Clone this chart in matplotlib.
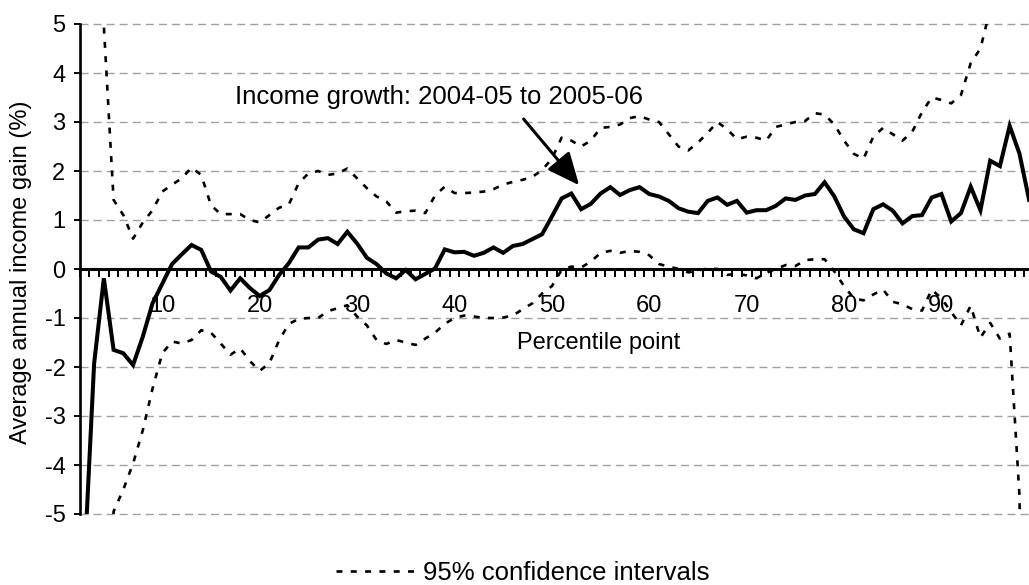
import matplotlib
matplotlib.use("Agg")
import matplotlib.pyplot as plt
import numpy as np

plt.rcParams['font.family'] = ['Liberation Sans', 'DejaVu Sans']
plt.rcParams['lines.scale_dashes'] = False

# Percentile points 2..99
percentiles = list(range(2, 100))

income_growth = [
    -6.0, -1.93, -0.19, -1.65, -1.72, -1.96, -1.38, -0.70, -0.30,    # 2-10
    0.10, 0.30, 0.49, 0.39, -0.05, -0.16, -0.44, -0.19, -0.39, -0.55,  # 11-20
    -0.43, -0.12, 0.12, 0.44, 0.44, 0.60, 0.63, 0.51, 0.76, 0.52,      # 21-30
    0.23, 0.10, -0.09, -0.19, -0.02, -0.21, -0.10, 0.01, 0.40, 0.34,   # 31-40
    0.35, 0.27, 0.33, 0.44, 0.33, 0.47, 0.51, 0.61, 0.71, 1.07,        # 41-50
    1.44, 1.54, 1.22, 1.33, 1.54, 1.67, 1.51, 1.61, 1.67, 1.53,        # 51-60
    1.48, 1.39, 1.24, 1.17, 1.14, 1.39, 1.46, 1.31, 1.39, 1.15,        # 61-70
    1.20, 1.20, 1.29, 1.44, 1.41, 1.50, 1.53, 1.77, 1.48, 1.07,        # 71-80
    0.81, 0.73, 1.22, 1.32, 1.19, 0.93, 1.08, 1.10, 1.46, 1.53,        # 81-90
    0.97, 1.14, 1.68, 1.20, 2.21, 2.10, 2.92, 2.36, 1.41,              # 91-99
]

upper_ci = [
    40.0, 18.0, 4.95, 1.41, 1.10, 0.62, 0.95, 1.20, 1.58,              # 2-10
    1.72, 1.85, 2.07, 1.92, 1.30, 1.12, 1.12, 1.12, 1.00, 0.95,        # 11-20
    1.10, 1.25, 1.32, 1.75, 1.95, 2.00, 1.92, 1.95, 2.05, 1.85,        # 21-30
    1.65, 1.48, 1.38, 1.15, 1.18, 1.19, 1.14, 1.50, 1.68, 1.55,        # 31-40
    1.55, 1.56, 1.58, 1.63, 1.72, 1.78, 1.82, 1.88, 2.02, 2.25,        # 41-50
    2.68, 2.62, 2.50, 2.62, 2.88, 2.90, 2.95, 3.08, 3.12, 3.05,        # 51-60
    3.00, 2.75, 2.50, 2.42, 2.58, 2.78, 3.00, 2.85, 2.65, 2.70,        # 61-70
    2.68, 2.62, 2.90, 2.95, 3.00, 3.02, 3.18, 3.15, 2.95, 2.62,        # 71-80
    2.35, 2.25, 2.70, 2.88, 2.75, 2.62, 2.80, 3.20, 3.50, 3.45,        # 81-90
    3.38, 3.55, 4.20, 4.50, 5.30, 7.00, 9.00, 8.00, 6.50,              # 91-99
]

lower_ci = [
    -20.0, -12.0, -9.0, -4.95, -4.50, -3.97, -3.29, -2.44, -1.72,      # 2-10
    -1.48, -1.52, -1.45, -1.25, -1.30, -1.52, -1.75, -1.62, -1.88, -2.08,  # 11-20
    -1.92, -1.45, -1.12, -1.02, -1.00, -1.00, -0.86, -0.80, -0.74, -0.97,  # 21-30
    -1.15, -1.45, -1.53, -1.45, -1.50, -1.55, -1.42, -1.30, -1.12, -1.00,  # 31-40
    -0.95, -0.97, -1.00, -1.00, -0.99, -0.95, -0.82, -0.70, -0.50, -0.35,  # 41-50
    -0.02, 0.05, 0.03, 0.15, 0.33, 0.37, 0.33, 0.37, 0.35, 0.28,       # 51-60
    0.10, 0.05, 0.00, -0.07, -0.03, 0.01, 0.00, -0.12, -0.10, -0.13,   # 61-70
    -0.19, -0.08, 0.00, 0.08, 0.06, 0.18, 0.20, 0.20, -0.05, -0.35,    # 71-80
    -0.60, -0.64, -0.52, -0.42, -0.67, -0.72, -0.82, -0.85, -0.42, -0.60,  # 81-90
    -0.88, -1.15, -0.75, -1.40, -1.10, -1.42, -1.32, -4.60, -15.0,     # 91-99
]

label_percentiles = [10, 20, 30, 40, 50, 60, 70, 80, 90]
y_ticks = [-5, -4, -3, -2, -1, 0, 1, 2, 3, 4, 5]

W, H = 1029, 585
fig = plt.figure(figsize=(W / 100, H / 100), dpi=100)
ax = fig.add_axes([79.5 / W, 1 - 514 / H, (1034 - 79.5) / W, 490 / H])

ci_dash = (0, (4.3, 6.0))
ax.plot(percentiles, upper_ci, color='black', lw=1.9, linestyle=ci_dash,
        label='95% confidence intervals', zorder=3)
ax.plot(percentiles, lower_ci, color='black', lw=1.9, linestyle=ci_dash, zorder=3)
ax.plot(percentiles, income_growth, color='black', lw=2.9, zorder=4,
        solid_joinstyle='miter')

ax.set_xlim(percentiles[0] - 0.5, percentiles[-1] + 0.5)
ax.set_ylim(-5, 5)

# grid
for v in y_ticks:
    if v != 0:
        ax.axhline(v, color='#a0a0a0', lw=1.0, linestyle=(0, (5.8, 3.6)),
                   zorder=1, clip_on=False)

for s in ['top', 'right']:
    ax.spines[s].set_visible(False)
ax.spines['bottom'].set_position(('data', 0))
ax.spines['bottom'].set_linewidth(2.2)
ax.spines['bottom'].set_zorder(5)
ax.spines['left'].set_linewidth(1.9)

# y ticks
ax.set_yticks(y_ticks)
ax.set_yticklabels([str(v) for v in y_ticks])
ax.tick_params(axis='y', direction='out', length=4.3, width=1.4, pad=5.8,
               labelsize=17)

# x ticks: category boundaries (major, no labels), labels at percentiles (minor)
boundaries = [percentiles[0] - 0.5] + [p + 0.5 for p in percentiles]
ax.set_xticks(boundaries)
ax.set_xticklabels([])
ax.tick_params(axis='x', which='major', direction='out', length=5.8, width=1.4)
ax.set_xticks(label_percentiles, minor=True)
ax.set_xticklabels([str(p) for p in label_percentiles], minor=True)
ax.tick_params(axis='x', which='minor', length=0, pad=19, labelsize=17)

ax.text(54.8, -1.51, 'Percentile point', ha='center', va='center', fontsize=17)

fig.text(21 / W, 1 - 272 / H, 'Average annual income gain (%)', rotation=90,
         ha='center', va='center', fontsize=17)

# annotation
ax.text(17.46, 3.51, 'Income growth: 2004-05 to 2005-06', ha='left', va='center',
        fontsize=18.5)
ax.annotate('', xy=(52.8, 1.71), xytext=(47.1, 3.06),
            arrowprops=dict(arrowstyle='-|>,head_length=0.9,head_width=0.4',
                            color='black', lw=2.2, mutation_scale=22,
                            shrinkA=0, shrinkB=0), zorder=6)

fig.legend(loc='center', bbox_to_anchor=(523 / W, 1 - 573 / H), frameon=False,
           fontsize=18.5, handlelength=3.1, handletextpad=0.3, borderpad=0,
           borderaxespad=0)

fig.savefig('out.png', dpi=100)
